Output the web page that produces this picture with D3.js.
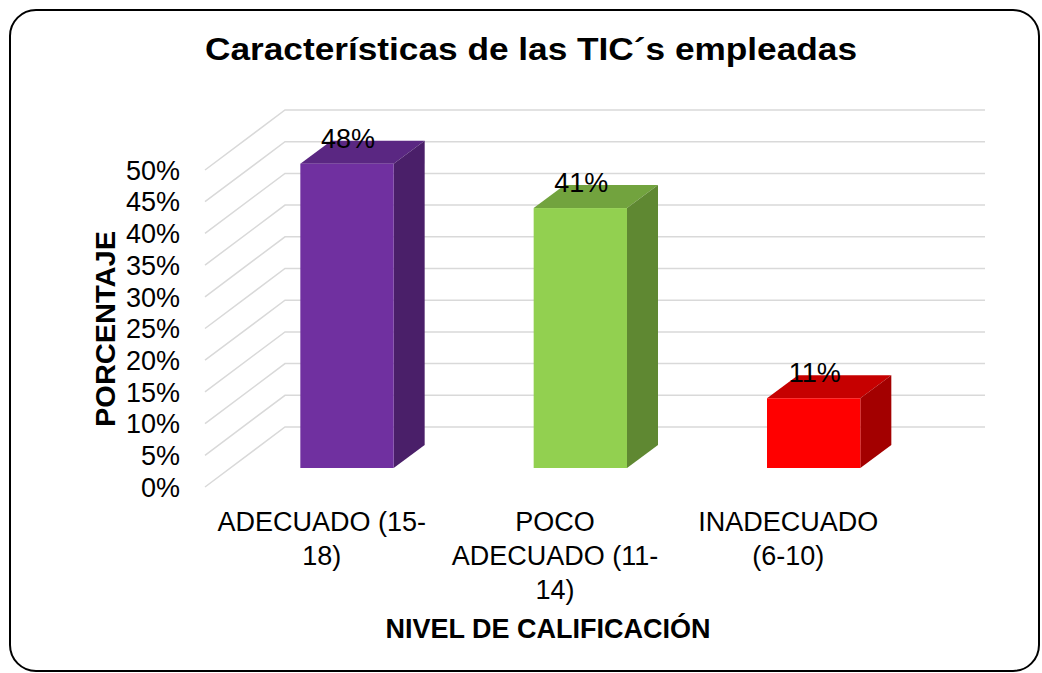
<!DOCTYPE html>
<html>
<head>
<meta charset="utf-8">
<script src="https://cdn.jsdelivr.net/npm/d3@7"></script>
<style>
  body { margin: 0; background: #fff; }
  text { font-family: "Liberation Sans", Arial, sans-serif; }
</style>
</head>
<body>
<div id="chart"></div>
<script>
/************************************************************
 * Data
 ************************************************************/
const categories = ['ADECUADO (15-18)', 'POCO ADECUADO (11-14)', 'INADECUADO (6-10)'];
// category label lines as shown under the axis
const categoryLines = [
  ['ADECUADO (15-', '18)'],
  ['POCO', 'ADECUADO (11-', '14)'],
  ['INADECUADO', '(6-10)']
];
const values = [0.48, 0.41, 0.11];
const valueLabels = ['48%', '41%', '11%'];
const yTicks = [0, 0.05, 0.10, 0.15, 0.20, 0.25, 0.30, 0.35, 0.40, 0.45, 0.50];

// front / top / side shades per bar
const barColors = [
  { front: '#7030a0', top: '#5a2782', side: '#4a1f69' },
  { front: '#92d050', top: '#72a33e', side: '#5f8832' },
  { front: '#ff0000', top: '#c60000', side: '#a30000' }
];

/************************************************************
 * Setup
 ************************************************************/
const W = 1042, H = 673;
const svg = d3.select('#chart').append('svg')
  .attr('width', W)
  .attr('height', H);

// rounded frame
svg.append('rect')
  .attr('x', 10).attr('y', 10)
  .attr('width', 1029).attr('height', 661)
  .attr('rx', 26).attr('ry', 26)
  .attr('fill', '#fff')
  .attr('stroke', '#000')
  .attr('stroke-width', 2);

// 3D floor offsets (front plane -> back wall)
const depthX = 80, depthY = 60;
const barDepthX = 31, barDepthY = 23;
const barOffset = 19; // how far bar front sits behind the front plane (vertical px)

const x = d3.scaleBand()
  .domain(categories)
  .range([205, 905])
  .paddingInner(0.6)
  .paddingOuter(0.3);

const y = d3.scaleLinear()
  .domain([0, 0.5])
  .range([487, 170]);

// gridlines: diagonal on the floor side + horizontal on the back wall
const grid = svg.append('g')
  .attr('stroke', '#d9d9d9')
  .attr('stroke-width', 1.5)
  .attr('fill', 'none');

grid.selectAll('path')
  .data(yTicks)
  .join('path')
  .attr('d', t => `M205,${y(t)} L${205 + depthX},${y(t) - depthY} L${905 + depthX},${y(t) - depthY}`);

// tick labels
svg.append('g')
  .selectAll('text')
  .data(yTicks)
  .join('text')
  .attr('x', 180)
  .attr('y', t => y(t))
  .attr('dy', '0.36em')
  .attr('text-anchor', 'end')
  .attr('font-size', 27)
  .attr('fill', '#000')
  .text(d3.format('.0%'));

/************************************************************
 * 3D bars
 ************************************************************/
const shiftX = barOffset * depthX / depthY;
const bars = svg.append('g')
  .selectAll('g')
  .data(categories.map((c, i) => ({ cat: c, v: values[i], i })))
  .join('g');

bars.each(function(d) {
  const g = d3.select(this);
  const x0 = x(d.cat) + shiftX;
  const x1 = x0 + x.bandwidth();
  const yb = y(0) - barOffset;
  const yt = y(d.v) - barOffset;
  const c = barColors[d.i];

  // top face
  g.append('path')
    .attr('d', `M${x0},${yt} L${x1},${yt} L${x1 + barDepthX},${yt - barDepthY} L${x0 + barDepthX},${yt - barDepthY} Z`)
    .attr('fill', c.top);
  // side face
  g.append('path')
    .attr('d', `M${x1},${yt} L${x1 + barDepthX},${yt - barDepthY} L${x1 + barDepthX},${yb - barDepthY} L${x1},${yb} Z`)
    .attr('fill', c.side);
  // front face
  g.append('rect')
    .attr('x', x0).attr('y', yt)
    .attr('width', x.bandwidth())
    .attr('height', yb - yt)
    .attr('fill', c.front);

  // value label
  g.append('text')
    .attr('x', (x0 + x1) / 2 + 1)
    .attr('y', yt - 16)
    .attr('text-anchor', 'middle')
    .attr('font-size', 27)
    .attr('fill', '#000')
    .text(valueLabels[d.i]);
});

/************************************************************
 * Category labels & axis titles
 ************************************************************/
const catG = svg.append('g');
categories.forEach((c, i) => {
  const cx = x(c) + x.bandwidth() / 2;
  catG.append('text')
    .attr('x', cx)
    .attr('y', 531)
    .attr('text-anchor', 'middle')
    .attr('font-size', 27)
    .attr('fill', '#000')
    .selectAll('tspan')
    .data(categoryLines[i])
    .join('tspan')
    .attr('x', cx)
    .attr('dy', (l, j) => j === 0 ? 0 : 34)
    .text(l => l);
});

svg.append('text')
  .attr('x', 531)
  .attr('y', 60)
  .attr('text-anchor', 'middle')
  .attr('font-size', 31)
  .attr('font-weight', 'bold')
  .attr('textLength', 652)
  .attr('lengthAdjust', 'spacingAndGlyphs')
  .text('Características de las TIC´s empleadas');

svg.append('text')
  .attr('x', 548)
  .attr('y', 638)
  .attr('text-anchor', 'middle')
  .attr('font-size', 27)
  .attr('font-weight', 'bold')
  .text('NIVEL DE CALIFICACIÓN');

svg.append('text')
  .attr('transform', 'translate(115,329) rotate(-90)')
  .attr('text-anchor', 'middle')
  .attr('font-size', 27)
  .attr('font-weight', 'bold')
  .attr('textLength', 196)
  .attr('lengthAdjust', 'spacingAndGlyphs')
  .text('PORCENTAJE');
</script>
</body>
</html>
